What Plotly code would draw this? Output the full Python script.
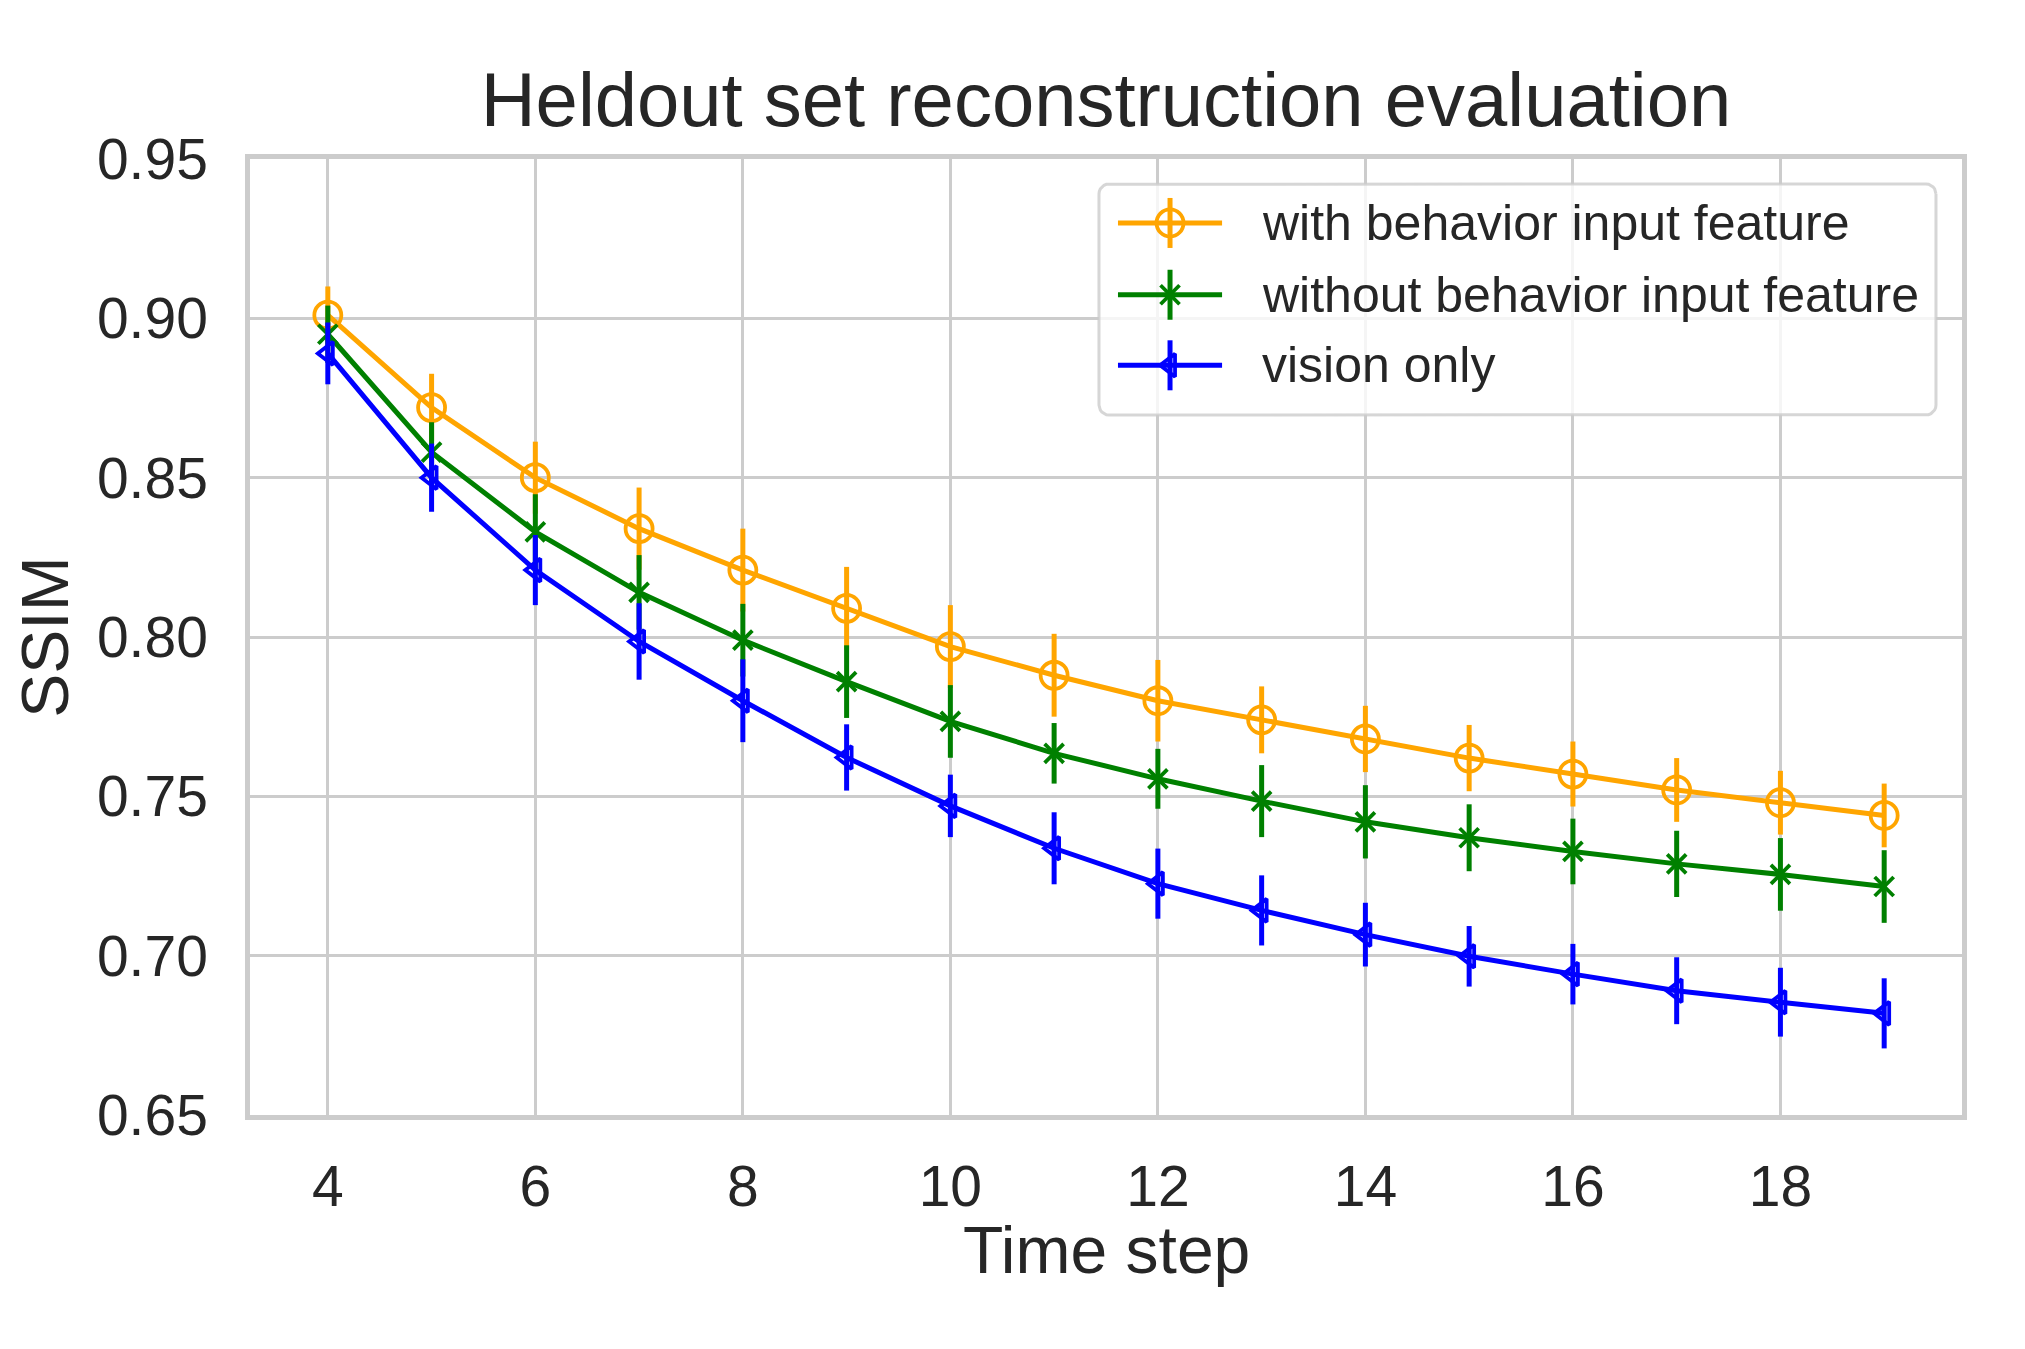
import math

import plotly.graph_objects as go

# time steps on the x axis
time_steps = list(range(4, 20))

with_behavior = [0.901, 0.872, 0.850, 0.834, 0.821, 0.809, 0.797, 0.788,
                 0.780, 0.774, 0.768, 0.762, 0.757, 0.752, 0.748, 0.744]
with_behavior_err = [0.009, 0.0106, 0.0113, 0.0129, 0.013, 0.013, 0.013, 0.013,
                     0.0128, 0.0105, 0.0104, 0.0104, 0.0102, 0.010, 0.010, 0.010]

without_behavior = [0.895, 0.858, 0.833, 0.814, 0.799, 0.786, 0.7735, 0.7635,
                    0.7555, 0.7485, 0.742, 0.737, 0.7327, 0.7288, 0.7255, 0.7217]
without_behavior_err = [0.009, 0.0094, 0.0118, 0.0117, 0.0114, 0.0114, 0.0114, 0.0095,
                        0.0094, 0.0113, 0.0115, 0.0105, 0.0103, 0.0104, 0.0114, 0.0114]

vision_only = [0.889, 0.850, 0.821, 0.7986, 0.780, 0.7622, 0.747, 0.7337,
               0.7226, 0.7142, 0.7066, 0.6998, 0.6942, 0.689, 0.6854, 0.6819]
vision_only_err = [0.0097, 0.0107, 0.011, 0.012, 0.013, 0.0104, 0.0098, 0.0113,
                   0.011, 0.011, 0.010, 0.0095, 0.0095, 0.0105, 0.0108, 0.011]

series_names = ["with behavior input feature", "without behavior input feature", "vision only"]
y_ticks = [0.65, 0.70, 0.75, 0.80, 0.85, 0.90, 0.95]
x_ticks = [4, 6, 8, 10, 12, 14, 16, 18]

FONT = "Liberation Sans, Arial, sans-serif"
TEXT = "#262626"
GRID = "#cccccc"
LINE_W = 5.0

styles = [
    {"color": "#FFA500", "symbol": "circle-open", "size": 27},
    {"color": "#008000", "symbol": "x-thin-open", "size": 19},
    {"color": "#0000FF", "symbol": "triangle-left-open", "size": 20},
]
values = [with_behavior, without_behavior, vision_only]
errors = [with_behavior_err, without_behavior_err, vision_only_err]

fig = go.Figure()

for name, ys, errs, st in zip(series_names, values, errors, styles):
    fig.add_trace(
        go.Scatter(
            x=time_steps,
            y=ys,
            mode="lines+markers",
            name=name,
            showlegend=False,
            line={"color": st["color"], "width": LINE_W},
            marker={
                "symbol": st["symbol"],
                "size": st["size"],
                "color": st["color"],
                "line": {"color": st["color"], "width": 3.8},
            },
            error_y={
                "type": "data",
                "array": errs,
                "visible": True,
                "color": st["color"],
                "thickness": LINE_W,
                "width": 0,
            },
            hoverinfo="skip",
        )
    )

# Legend drawn on an overlay axis spanning the plot area in [0, 1] units,
# so it can mimic the matplotlib legend (long sample line, error bar, rounded box).
box_x0, box_x1 = 0.4959, 0.9848
box_y0, box_y1 = 0.7322, 0.9739
rad_x, rad_y = 10 / 1712, 10 / 956

box_x: list[float] = []
box_y: list[float] = []
corners = [
    (box_x1 - rad_x, box_y1 - rad_y, 0),
    (box_x0 + rad_x, box_y1 - rad_y, 90),
    (box_x0 + rad_x, box_y0 + rad_y, 180),
    (box_x1 - rad_x, box_y0 + rad_y, 270),
]
for cx, cy, start in corners:
    for step in range(7):
        ang = math.radians(start + step * 15)
        box_x.append(cx + rad_x * math.cos(ang))
        box_y.append(cy + rad_y * math.sin(ang))
box_x.append(box_x[0])
box_y.append(box_y[0])

fig.add_trace(
    go.Scatter(
        x=box_x, y=box_y, xaxis="x2", yaxis="y2",
        mode="lines", fill="toself",
        fillcolor="rgba(255,255,255,0.8)",
        line={"color": "rgba(204,204,204,0.8)", "width": 3},
        showlegend=False, hoverinfo="skip",
    )
)

legend_rows = [0.9331, 0.8580, 0.7842]
sample_x0, sample_x1 = 0.5070, 0.5678
text_x = 0.5900
err_half = 25 / 956

for name, row_y, st in zip(series_names, legend_rows, styles):
    fig.add_trace(
        go.Scatter(
            x=[sample_x0, sample_x1], y=[row_y, row_y], xaxis="x2", yaxis="y2",
            mode="lines", line={"color": st["color"], "width": LINE_W},
            showlegend=False, hoverinfo="skip",
        )
    )
    fig.add_trace(
        go.Scatter(
            x=[(sample_x0 + sample_x1) / 2], y=[row_y], xaxis="x2", yaxis="y2",
            mode="markers",
            marker={
                "symbol": st["symbol"], "size": st["size"], "color": st["color"],
                "line": {"color": st["color"], "width": 3.8},
            },
            error_y={
                "type": "constant", "value": err_half, "visible": True,
                "color": st["color"], "thickness": LINE_W, "width": 0,
            },
            showlegend=False, hoverinfo="skip",
        )
    )
    fig.add_annotation(
        text=name, xref="x2", yref="y2", x=text_x, y=row_y,
        xanchor="left", yanchor="middle", showarrow=False,
        font={"family": FONT, "size": 50, "color": TEXT},
    )

axis_common = {
    "showgrid": True,
    "gridcolor": GRID,
    "gridwidth": 3.4,
    "showline": True,
    "linecolor": GRID,
    "linewidth": 4.5,
    "mirror": True,
    "zeroline": False,
    "ticks": "",
    "automargin": False,
    "tickfont": {"family": FONT, "size": 57, "color": TEXT},
}

fig.update_xaxes(
    range=[3.25, 19.75],
    tickvals=x_ticks,
    ticklabelstandoff=18,
    **axis_common,
)
fig.update_yaxes(
    range=[0.65, 0.95],
    tickvals=y_ticks,
    tickformat=".2f",
    ticklabelstandoff=26,
    title={
        "text": "SSIM",
        "standoff": 35,
        "font": {"family": FONT, "size": 66, "color": TEXT},
    },
    **axis_common,
)

fig.add_annotation(
    text="Time step", xref="paper", yref="paper", x=0.5, y=-0.1412,
    xanchor="center", yanchor="middle", showarrow=False,
    font={"family": FONT, "size": 66, "color": TEXT},
)

fig.update_layout(
    width=2025,
    height=1349,
    paper_bgcolor="white",
    plot_bgcolor="white",
    margin={"l": 242, "r": 71, "t": 151, "b": 242},
    xaxis2={"overlaying": "x", "range": [0, 1], "visible": False, "fixedrange": True},
    yaxis2={"overlaying": "y", "range": [0, 1], "visible": False, "fixedrange": True},
    title={
        "text": "Heldout set reconstruction evaluation",
        "x": 0.5,
        "xref": "paper",
        "y": 0.932,
        "yref": "container",
        "xanchor": "center",
        "yanchor": "middle",
        "font": {"family": FONT, "size": 76, "color": TEXT},
    },
    showlegend=False,
)

fig.write_html("out.html")
